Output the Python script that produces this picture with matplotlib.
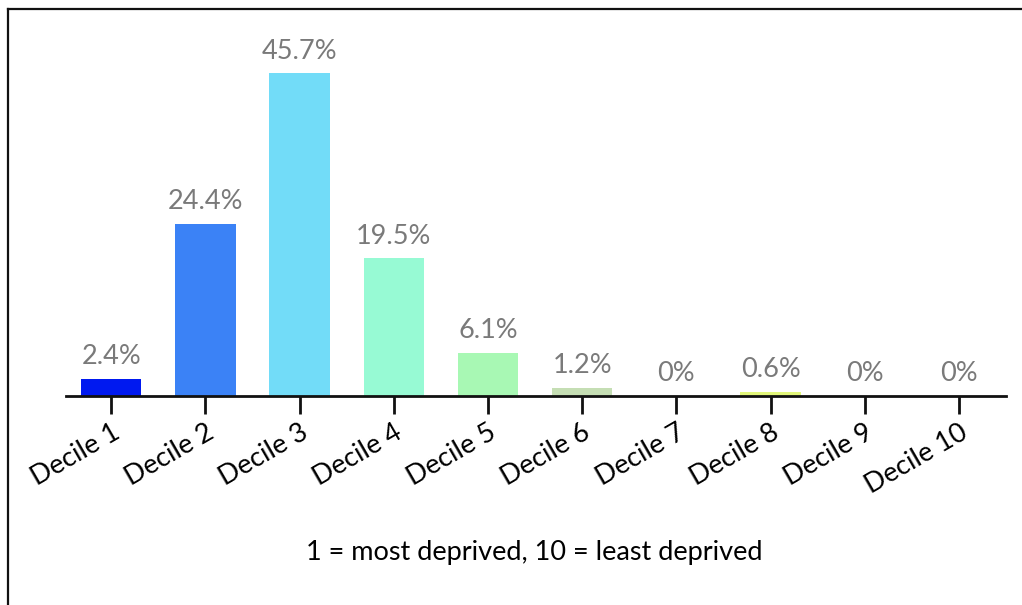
import matplotlib.pyplot as plt
from matplotlib.lines import Line2D

plt.rcParams['font.family'] = ['Lato', 'DejaVu Sans']

deciles = ['Decile 1', 'Decile 2', 'Decile 3', 'Decile 4', 'Decile 5',
           'Decile 6', 'Decile 7', 'Decile 8', 'Decile 9', 'Decile 10']
shares = [2.4, 24.4, 45.7, 19.5, 6.1, 1.2, 0, 0.6, 0, 0]
labels = ['2.4%', '24.4%', '45.7%', '19.5%', '6.1%', '1.2%', '0%', '0.6%', '0%', '0%']
colors = ['#0019f0', '#3b82f6', '#72dcf8', '#97fad4', '#a8f8b4',
          '#c5deb4', '#d4ea98', '#e2f77a', '#f2e46c', '#f6c85e']

fig = plt.figure(figsize=(10.22, 6.05), dpi=100)
ax = fig.add_axes([0.0646, 0.3455, 0.9198, 0.5835])

x = range(len(deciles))
ax.bar(x, shares, width=0.64, color=colors)
for i, (v, lab) in enumerate(zip(shares, labels)):
    ax.annotate(lab, (i, v), xytext=(0, 7), textcoords='offset points',
                ha='center', va='bottom', fontsize=19.5, color='#7a7a7a')

ax.set_xlim(-0.48, 9.5)
ax.set_ylim(0, 50)
ax.set_xticks(list(x))
ax.set_xticklabels(deciles, rotation=30, ha='right', rotation_mode='anchor',
                   fontsize=19.5)
ax.tick_params(axis='x', length=13, width=2, pad=4, color='#111111')
ax.set_yticks([])
for side in ['top', 'right', 'left']:
    ax.spines[side].set_visible(False)
ax.spines['bottom'].set_linewidth(2)
ax.spines['bottom'].set_color('#111111')

fig.text(0.523, 0.086, '1 = most deprived, 10 = least deprived',
         ha='center', va='center', fontsize=19.5)

# outer frame (left and top edges)
fig.add_artist(Line2D([0.0075, 0.0075], [0, 0.985], transform=fig.transFigure,
                      color='#111111', lw=1.6))
fig.add_artist(Line2D([0.0075, 1], [0.985, 0.985], transform=fig.transFigure,
                      color='#111111', lw=1.6))

fig.savefig('out.png', dpi=100)
